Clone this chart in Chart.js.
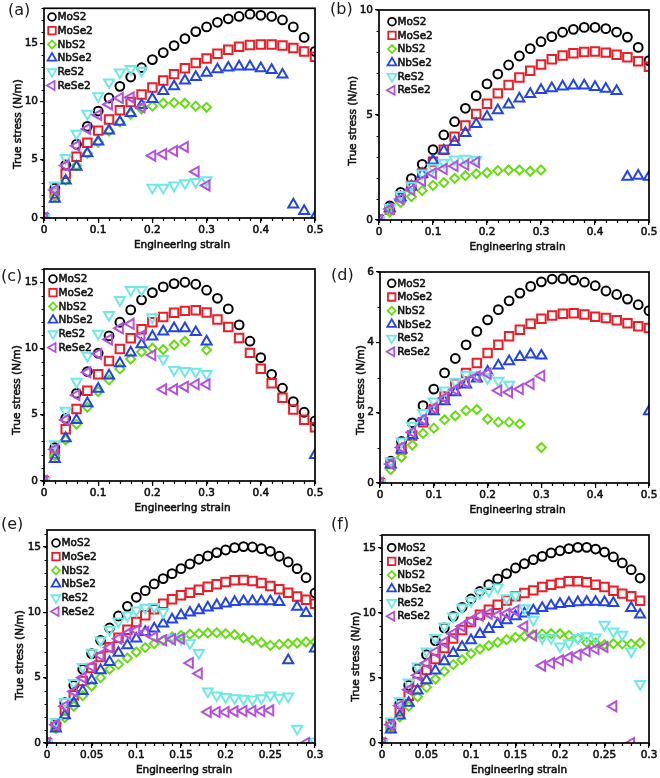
<!DOCTYPE html>
<html><head><meta charset="utf-8">
<script src="https://cdn.jsdelivr.net/npm/chart.js@4.4.1/dist/chart.umd.min.js"></script>
<style>
html,body{margin:0;padding:0;background:#fff;}
#wrap{position:relative;width:660px;height:778px;overflow:hidden;background:#fff;}
canvas{position:absolute;}
.lbl{position:absolute;font-family:"DejaVu Sans";font-size:16px;color:#1a1a1a;line-height:1;white-space:nowrap;}
</style></head><body><div id="wrap"></div>
<script>
// ---------- data ----------
const seriesNames = ['MoS2','MoSe2','NbS2','NbSe2','ReS2','ReSe2'];
const strain50 = [0,0.02,0.04,0.06,0.08,0.10,0.12,0.14,0.16,0.18,0.20,0.22,0.24,0.26,0.28,0.30,0.32,0.34,0.36,0.38,0.40,0.42,0.44,0.46,0.48,0.50];
const strain30 = [0,0.01,0.02,0.03,0.04,0.05,0.06,0.07,0.08,0.09,0.10,0.11,0.12,0.13,0.14,0.15,0.16,0.17,0.18,0.19,0.20,0.21,0.22,0.23,0.24,0.25,0.26,0.27,0.28,0.29,0.30];
const xTicks50 = [0,0.1,0.2,0.3,0.4,0.5];
const xTicks30 = [0,0.05,0.1,0.15,0.2,0.25,0.3];
const yTicks15 = [0,5,10,15];
const yTicks10 = [0,5,10];
const yTicks6 = [0,2,4,6];
const N = null;

// (a)
const aMoS2  = [0,2.56,4.55,6.33,7.87,9.18,10.3,11.3,12.1,12.9,13.6,14.2,14.8,15.4,16.0,16.4,16.8,17.1,17.3,17.5,17.4,17.3,17.0,16.4,15.5,14.3];
const aMoSe2 = [0,2.1,3.8,5.25,6.45,7.5,8.45,9.25,9.95,10.6,11.2,11.8,12.35,12.85,13.3,13.7,14.1,14.45,14.7,14.85,14.9,14.9,14.8,14.6,14.3,13.85];
const aNbS2  = [0,1.85,3.25,4.5,5.55,6.5,7.45,8.25,8.9,9.35,9.6,9.85,9.9,9.85,9.6,9.5,N,N,N,N,N,N,N,N,N,N];
const aNbSe2 = [0,1.65,3.2,4.4,5.55,6.55,7.5,8.25,9.0,9.7,10.2,10.9,11.3,11.8,12.1,12.45,12.75,12.9,13.0,13.0,12.85,12.7,12.3,1.15,0.6,0.1];
const aReS2  = [0,2.8,5.15,7.25,8.95,10.45,11.65,12.5,12.8,12.65,2.6,2.6,2.8,3.0,3.1,3.25,N,N,N,N,N,N,N,N,N,N];
const aReSe2 = [0,2.4,4.5,6.2,7.65,8.85,9.75,10.3,10.35,9.5,5.35,5.5,5.75,6.1,3.98,2.8,N,N,N,N,N,N,N,N,N,N];
// (b)
const bMoS2  = [0,0.67,1.32,1.97,2.65,3.35,4.05,4.68,5.32,5.92,6.48,6.95,7.38,7.81,8.16,8.49,8.73,8.94,9.08,9.17,9.17,9.11,8.95,8.71,8.22,7.59];
const bMoSe2 = [0,0.5,1.1,1.63,2.22,2.78,3.35,3.97,4.5,5.05,5.54,6.03,6.43,6.79,7.11,7.4,7.65,7.83,7.94,8.0,8.02,7.97,7.87,7.75,7.56,7.3];
const bNbS2  = [0,0.38,0.83,1.11,1.4,1.65,1.78,1.98,2.11,2.2,2.25,2.35,2.38,2.38,2.32,2.38,N,N,N,N,N,N,N,N,N,N];
const bNbSe2 = [0,0.55,1.08,1.59,2.19,2.83,3.3,3.71,4.14,4.57,4.92,5.22,5.5,5.78,6.0,6.19,6.27,6.35,6.4,6.4,6.33,6.25,6.14,2.06,2.1,2.06];
const bReS2  = [0,0.59,1.19,1.63,2.22,2.49,2.73,2.89,2.92,2.86,N,N,N,N,N,N,N,N,N,N,N,N,N,N,N,N];
const bReSe2 = [0,0.52,1.0,1.43,1.86,2.22,2.43,2.57,2.63,2.75,N,N,N,N,N,N,N,N,N,N,N,N,N,N,N,N];
// (c)
const cMoS2  = [0,2.52,4.73,6.62,8.26,9.64,10.95,11.98,12.91,13.67,14.22,14.65,14.9,15.0,14.85,14.4,13.79,12.99,11.78,10.55,9.31,8.05,7.0,5.99,5.19,4.53];
const cMoSe2 = [0,2.04,3.9,5.44,6.82,8.05,9.06,9.97,10.77,11.45,11.98,12.38,12.69,12.84,12.89,12.71,12.18,11.63,10.8,9.67,8.48,7.37,6.29,5.39,4.63,4.05];
const cNbS2  = [0,1.91,3.1,4.28,5.56,6.75,7.63,8.46,9.21,9.74,10.02,9.92,10.27,10.55,N,9.89,N,N,N,N,N,N,N,N,N,N];
const cNbSe2 = [0,1.66,3.22,4.6,5.86,6.95,7.95,8.88,9.69,10.32,10.9,11.28,11.53,11.53,11.23,10.52,N,N,N,N,N,N,N,N,N,1.96];
const cReS2  = [0,2.79,5.31,7.5,9.46,11.13,12.53,13.67,14.42,14.42,12.36,9.21,8.38,8.31,8.26,8.08,N,N,N,N,N,N,N,N,N,N];
const cReSe2 = [0,2.39,4.61,6.49,8.2,9.59,10.68,11.53,11.86,10.97,9.51,6.92,6.92,7.12,7.3,7.3,N,N,N,N,N,N,N,N,N,N];
// (d)
const dMoS2  = [0,0.62,1.18,1.71,2.2,2.67,3.13,3.54,3.93,4.31,4.64,4.93,5.18,5.4,5.59,5.72,5.8,5.81,5.77,5.71,5.61,5.46,5.36,5.23,5.07,4.9];
const dMoSe2 = [0,0.54,0.95,1.35,1.73,2.1,2.46,2.82,3.13,3.41,3.7,3.93,4.17,4.36,4.53,4.67,4.76,4.81,4.83,4.79,4.73,4.69,4.63,4.54,4.46,4.41];
const dNbS2  = [0,0.38,0.73,1.08,1.41,1.56,1.8,1.91,2.06,2.09,1.82,1.73,1.73,1.68,N,1.01,N,N,N,N,N,N,N,N,N,N];
const dNbSe2 = [0,0.52,0.95,1.36,1.75,2.04,2.32,2.58,2.8,2.97,3.16,3.34,3.46,3.58,3.65,3.62,N,N,N,N,N,N,N,N,N,2.04];
const dReS2  = [0,0.62,1.18,1.63,1.99,2.32,2.63,2.88,3.08,3.06,2.99,2.91,2.8,N,N,N,N,N,N,N,N,N,N,N,N,N];
const dReSe2 = [0,0.54,1.01,1.44,1.8,2.13,2.42,2.65,2.86,3.03,3.11,2.63,2.58,2.67,2.82,3.05,N,N,N,N,N,N,N,N,N,N];
// (e)
const eMoS2  = [0,1.48,3.09,4.41,5.64,6.84,7.86,8.8,9.72,10.46,11.15,11.66,12.17,12.58,12.96,13.34,13.7,14.06,14.31,14.57,14.77,14.95,15.03,15.0,14.87,14.67,14.29,13.85,13.34,12.65,11.48];
const eMoSe2 = [0,1.3,2.5,3.65,4.74,5.74,6.58,7.32,8.06,8.67,9.26,9.77,10.23,10.66,11.0,11.3,11.5,11.73,11.96,12.14,12.32,12.45,12.47,12.4,12.24,12.02,11.76,11.5,11.22,10.97,10.66];
const eNbS2  = [0,1.1,1.94,2.81,3.62,4.36,5.0,5.64,6.02,6.51,6.96,7.3,7.6,7.86,8.11,8.24,8.32,8.37,8.42,8.44,8.37,8.29,8.04,7.86,7.68,7.47,7.55,7.6,7.65,7.73,7.73];
const eNbSe2 = [0,1.1,2.12,3.06,3.98,4.8,5.56,6.2,6.89,7.47,7.98,8.49,8.75,9.13,9.44,9.77,9.97,10.15,10.36,10.54,10.66,10.79,10.84,10.84,10.84,10.84,10.79,6.33,10.41,9.95,7.22];
const eReS2  = [0,1.61,3.14,4.59,5.82,6.91,7.86,8.67,9.31,9.77,10.15,10.36,10.41,10.03,8.04,7.98,7.65,6.89,3.95,3.65,3.52,3.44,3.39,3.34,3.44,3.65,3.47,3.57,1.1,N,0.13];
const eReSe2 = [0,1.4,2.81,3.95,5.0,5.87,6.71,7.3,7.98,8.37,8.62,8.49,8.11,7.86,7.93,7.98,6.12,5.31,2.37,2.37,2.37,2.42,2.45,2.45,2.45,2.5,N,N,N,0,N];
// (f)
const fMoS2  = [0,1.49,3.03,4.44,5.72,6.79,7.87,8.85,9.74,10.44,11.08,11.67,12.18,12.62,13.03,13.46,13.79,14.1,14.36,14.62,14.79,14.95,15.05,15.05,14.92,14.69,14.31,13.85,13.33,12.69,N];
const fMoSe2 = [0,1.33,2.44,3.64,4.69,5.62,6.46,7.31,8.03,8.69,9.31,9.87,10.26,10.64,10.97,11.28,11.54,11.74,12.0,12.18,12.31,12.44,12.44,12.36,12.18,12.0,11.72,11.49,11.28,10.95,N];
const fNbS2  = [0,1.15,2.0,2.82,3.56,4.28,4.92,5.51,6.03,6.41,6.87,7.23,7.49,7.74,7.95,8.13,8.21,8.33,8.38,8.41,8.41,8.28,8.03,7.74,7.69,7.56,7.64,7.62,7.62,7.69,N];
const fNbSe2 = [0,1.03,2.1,3.08,4.03,4.82,5.56,6.28,6.92,7.38,7.9,8.38,8.77,9.15,9.44,9.74,9.95,10.18,10.38,10.56,10.69,10.77,10.82,10.85,10.85,10.82,10.77,N,10.38,9.87,N];
const fReS2  = [0,1.67,3.21,4.67,5.9,7.05,8.08,8.97,9.74,10.44,10.95,11.54,11.72,11.97,11.15,11.36,10.38,9.49,8.08,8.08,7.44,7.69,8.08,8.21,8.13,9.1,8.59,8.33,7.05,4.54,N];
const fReSe2 = [0,1.41,2.87,4.1,5.21,6.15,7.0,7.74,8.41,8.97,9.41,9.79,9.95,9.82,9.95,10.18,8.97,8.26,5.95,6.15,6.36,6.59,6.79,7.05,7.23,7.38,2.82,N,0,N,N];

// ---------- styles ----------
const seriesColors = ['#000000','#ee1c24','#66dd11','#2244e8','#6ee8e8','#b450e0'];
const seriesStyles = [
  {style:'circle', rot:0, r:4.4},
  {style:'rect', rot:0, r:6.0},
  {style:'rectRot', rot:0, r:4.5},
  {style:'triangle', rot:0, r:5.8},
  {style:'triangle', rot:180, r:5.8},
  {style:'triangle', rot:270, r:5.8}
];
const FONT = '"DejaVu Sans", sans-serif';
const TXT = '#111111';

const panels = [
  {lab:'(a)', strain:strain50, series:[aMoS2,aMoSe2,aNbS2,aNbSe2,aReS2,aReSe2], xMax:0.5, xTicks:xTicks50, xMinor:0.02, yMax:18, yTicks:yTicks15, yMinor:1,
   cv:{x:0,y:0,w:330,h:255}, area:{l:44,t:7,r:315,b:218}, leg:{x:52,y:17}, xt:{x:182,y:245.5}, yt:{x:18,y:124}, lp:{x:8,y:2}},
  {lab:'(b)', strain:strain50, series:[bMoS2,bMoSe2,bNbS2,bNbSe2,bReS2,bReSe2], xMax:0.5, xTicks:xTicks50, xMinor:0.02, yMax:10, yTicks:yTicks10, yMinor:1,
   cv:{x:330,y:0,w:330,h:255}, area:{l:379,t:10,r:649,b:220}, leg:{x:62,y:21.7}, xt:{x:187.5,y:247.7}, yt:{x:23.3,y:120.8}, lp:{x:330,y:1}},
  {lab:'(c)', strain:strain50, series:[cMoS2,cMoSe2,cNbS2,cNbSe2,cReS2,cReSe2], xMax:0.5, xTicks:xTicks50, xMinor:0.02, yMax:16, yTicks:yTicks15, yMinor:1,
   cv:{x:0,y:255,w:330,h:260}, area:{l:44,t:269,r:315,b:481}, leg:{x:53,y:24}, xt:{x:182.5,y:253.3}, yt:{x:17.3,y:135}, lp:{x:1,y:268}},
  {lab:'(d)', strain:strain50, series:[dMoS2,dMoSe2,dNbS2,dNbSe2,dReS2,dReSe2], xMax:0.5, xTicks:xTicks50, xMinor:0.02, yMax:6, yTicks:yTicks6, yMinor:1,
   cv:{x:330,y:255,w:330,h:260}, area:{l:380,t:272,r:649,b:483}, leg:{x:61.7,y:28.3}, xt:{x:187.5,y:255}, yt:{x:31.7,y:135}, lp:{x:331,y:267}},
  {lab:'(e)', strain:strain30, series:[eMoS2,eMoSe2,eNbS2,eNbSe2,eReS2,eReSe2], xMax:0.3, xTicks:xTicks30, xMinor:0.01, yMax:16.3, yTicks:yTicks15, yMinor:1,
   cv:{x:0,y:515,w:330,h:263}, area:{l:47,t:530,r:315,b:743}, leg:{x:56,y:28}, xt:{x:184,y:255}, yt:{x:20,y:140}, lp:{x:1,y:516}},
  {lab:'(f)', strain:strain30, series:[fMoS2,fMoSe2,fNbS2,fNbSe2,fReS2,fReSe2], xMax:0.3, xTicks:xTicks30, xMinor:0.01, yMax:16, yTicks:yTicks15, yMinor:1,
   cv:{x:330,y:515,w:330,h:263}, area:{l:382,t:535,r:649,b:743}, leg:{x:61.7,y:32.7}, xt:{x:189,y:255}, yt:{x:26.7,y:141.7}, lp:{x:331,y:516}}
];

function markerPath(ctx, st, x, y) {
  const r = st.r;
  ctx.beginPath();
  if (st.style === 'circle') {
    ctx.arc(x, y, r, 0, Math.PI * 2);
  } else if (st.style === 'rect') {
    const s = r * Math.SQRT1_2;
    ctx.rect(x - s, y - s, 2 * s, 2 * s);
  } else if (st.style === 'rectRot') {
    ctx.moveTo(x - r, y); ctx.lineTo(x, y - r); ctx.lineTo(x + r, y); ctx.lineTo(x, y + r);
  } else {
    let rad = st.rot * Math.PI / 180;
    ctx.moveTo(x + Math.sin(rad) * r, y - Math.cos(rad) * r);
    rad += 2 * Math.PI / 3;
    ctx.lineTo(x + Math.sin(rad) * r, y - Math.cos(rad) * r);
    rad += 2 * Math.PI / 3;
    ctx.lineTo(x + Math.sin(rad) * r, y - Math.cos(rad) * r);
  }
  ctx.closePath();
}

function boldText(ctx, s, x, y) {
  ctx.lineWidth = 0.55;
  ctx.strokeStyle = TXT;
  ctx.strokeText(s, x, y);
  ctx.fillText(s, x, y);
}

const decoPlugin = {
  id: 'deco',
  afterDraw(chart, args, o) {
    const p = o.panel;
    const {ctx, chartArea: a} = chart;
    const xs = chart.scales.x, ys = chart.scales.y;
    ctx.save();
    ctx.strokeStyle = '#000';
    ctx.lineWidth = 1.2;
    ctx.beginPath();
    const nx = Math.round(p.xMax / p.xMinor);
    for (let i = 0; i <= nx; i++) {
      const px = Math.round(xs.getPixelForValue(i * p.xMinor)) + 0.5;
      ctx.moveTo(px, a.bottom); ctx.lineTo(px, a.bottom + 3);
    }
    const ny = Math.floor(p.yMax / p.yMinor + 1e-9);
    for (let i = 0; i <= ny; i++) {
      const py = Math.round(ys.getPixelForValue(i * p.yMinor)) + 0.5;
      ctx.moveTo(a.left, py); ctx.lineTo(a.left - 2.5, py);
    }
    ctx.stroke();
    ctx.lineWidth = 1.7;
    ctx.strokeRect(a.left, a.top, a.right - a.left, a.bottom - a.top);
    // axis titles
    ctx.fillStyle = TXT;
    ctx.font = '10.5px ' + FONT;
    ctx.textAlign = 'center';
    ctx.textBaseline = 'middle';
    boldText(ctx, 'Engineering strain', p.xt.x, p.xt.y);
    ctx.save();
    ctx.translate(p.yt.x, p.yt.y);
    ctx.rotate(-Math.PI / 2);
    boldText(ctx, 'True stress (N/m)', 0, 0);
    ctx.restore();
    // legend inside plot
    ctx.textAlign = 'left';
    seriesNames.forEach((name, i) => {
      const lx = p.leg.x, ly = p.leg.y + i * 13.7;
      ctx.lineWidth = 1.8;
      ctx.strokeStyle = seriesColors[i];
      const st = Object.assign({}, seriesStyles[i], {r: seriesStyles[i].r * 0.88});
      markerPath(ctx, st, lx, ly);
      ctx.stroke();
      ctx.fillStyle = TXT;
      boldText(ctx, name, lx + 5.5, ly + 0.5);
    });
    ctx.restore();
  }
};

const wrap = document.getElementById('wrap');
panels.forEach((p) => {
  const cv = document.createElement('canvas');
  cv.width = p.cv.w; cv.height = p.cv.h;
  cv.style.left = p.cv.x + 'px'; cv.style.top = p.cv.y + 'px';
  cv.style.width = p.cv.w + 'px'; cv.style.height = p.cv.h + 'px';
  wrap.appendChild(cv);
  const lb = document.createElement('div');
  lb.className = 'lbl'; lb.textContent = p.lab;
  lb.style.left = p.lp.x + 'px'; lb.style.top = p.lp.y + 'px';
  wrap.appendChild(lb);

  const datasets = p.series.map((vals, i) => ({
    label: seriesNames[i],
    data: p.strain.map((x, k) => vals[k] == null ? null : {x: x, y: vals[k]}).filter(d => d),
    showLine: false,
    pointStyle: seriesStyles[i].style,
    rotation: seriesStyles[i].rot,
    pointRadius: seriesStyles[i].r,
    pointHoverRadius: seriesStyles[i].r,
    pointBorderWidth: 2,
    pointBorderColor: seriesColors[i],
    pointBackgroundColor: 'rgba(0,0,0,0)',
    borderColor: seriesColors[i],
    backgroundColor: 'rgba(0,0,0,0)',
    order: 5 - i,
    clip: 0
  }));

  const yW = p.area.l - p.cv.x;
  const xH = p.cv.y + p.cv.h - p.area.b;
  const tickFont = {family: FONT, size: 10.5};
  new Chart(cv, {
    type: 'scatter',
    data: {datasets},
    options: {
      responsive: false,
      animation: false,
      devicePixelRatio: 1,
      events: [],
      layout: {padding: {left: 0, top: p.area.t - p.cv.y, right: p.cv.x + p.cv.w - p.area.r, bottom: 0}},
      plugins: {legend: {display: false}, tooltip: {enabled: false}, deco: {panel: p}},
      scales: {
        x: {
          type: 'linear', min: 0, max: p.xMax,
          afterBuildTicks: (s) => { s.ticks = p.xTicks.map(v => ({value: v})); },
          afterFit: (s) => { s.height = xH; },
          ticks: {autoSkip: false, maxRotation: 0, padding: 1, color: TXT, font: tickFont,
                  textStrokeColor: TXT, textStrokeWidth: 0.55,
                  callback: (v) => String(v)},
          grid: {display: true, drawOnChartArea: false, drawTicks: true, tickLength: 5, color: '#000', lineWidth: 1.2},
          border: {display: false}
        },
        y: {
          type: 'linear', min: 0, max: p.yMax,
          afterBuildTicks: (s) => { s.ticks = p.yTicks.map(v => ({value: v})); },
          afterFit: (s) => { s.width = yW; },
          ticks: {autoSkip: false, padding: 2, color: TXT, font: tickFont,
                  textStrokeColor: TXT, textStrokeWidth: 0.55,
                  callback: (v) => String(v)},
          grid: {display: true, drawOnChartArea: false, drawTicks: true, tickLength: 4, color: '#000', lineWidth: 1.2},
          border: {display: false}
        }
      }
    },
    plugins: [decoPlugin]
  });
});
</script>
</body></html>
